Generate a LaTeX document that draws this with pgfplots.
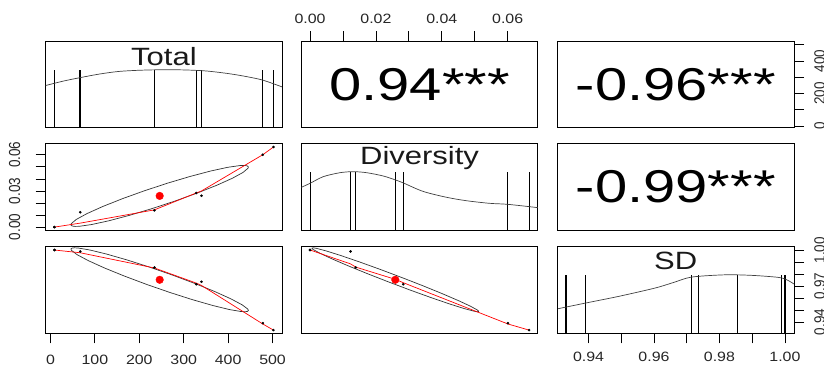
\documentclass[border=0pt]{standalone}
\usepackage{pgfplots}
\pgfplotsset{compat=1.18}
\usepackage{fontspec}
\setmainfont{Liberation Sans}
\newcommand\tl{\fontsize{13.5}{14}\selectfont}
\newcommand\ttl{\fontsize{25}{28}\selectfont}
\newcommand\cor{\fontsize{46}{50}\selectfont}
\pgfplotsset{
  panel/.style={scale only axis, width=236.5pt, height=86.5pt, anchor=south west,
    axis line style={black, line width=0.8pt}, tick align=outside,
    major tick length=10pt, every tick/.style={black, line width=0.8pt},
    xtick=\empty, ytick=\empty, scaled ticks=false,
    ticklabel style={font=\tl, text=black!85, inner sep=0pt}},
  dens/.style={smooth, black!75, line width=0.7pt, mark=none},
  rug/.style={ycomb, black, line width=1pt, mark=none},
  rugb/.style={ycomb, black, line width=1.7pt, mark=none},
  pts/.style={only marks, mark=*, mark size=1.1pt, black},
  ell/.style={black!80, line width=0.7pt, mark=none},
  lows/.style={red, line width=0.7pt, mark=none},
  mn/.style={only marks, mark=*, mark size=3.8pt, red},
}
\begin{document}
\begin{tikzpicture}
\path[use as bounding box] (0pt,0pt) rectangle (824pt,365pt);

% ---------- row 1 col 1 : Total diagonal
\begin{axis}[panel, at={(45.7pt,237.3pt)}, xmin=-10.7, xmax=521.7, ymin=0, ymax=1]
\addplot[rug] coordinates {(234,0.671)(328,0.671)(340,0.671)(478,0.671)};
\addplot[rugb] coordinates {(9,0.671)(9,0.671)(67,0.671)(502,0.671)};
\addplot[dens] coordinates {(-10.7,0.488)(30,0.54)(67,0.579)(110,0.620)(153,0.650)(200,0.664)(250,0.670)(300,0.668)(350,0.656)(400,0.626)(440,0.592)(478,0.550)(521.7,0.471)};
\node[font=\ttl, text=black!90, anchor=base, xscale=1.24] at (rel axis cs:0.5,0.72) {Total};
\end{axis}

% ---------- row 1 col 2 : r(Total,Diversity)
\begin{axis}[panel, at={(301.3pt,237.3pt)}, xmin=-0.00266, xmax=0.06916, ymin=0, ymax=1,
  xtick={0,0.01,0.02,0.03,0.04,0.05,0.06}, xticklabels={0.00,,0.02,,0.04,,0.06},
  xtick pos=right, xticklabel pos=right, xticklabel style={xscale=1.18}, xticklabel shift=7.5pt]
\addplot[draw=none, mark=none] coordinates {(0.03,0.5)};
\node[font=\cor, xscale=1.26] at (rel axis cs:0.5,0.5) {0.94***};
\end{axis}

% ---------- row 1 col 3 : r(Total,SD)
\begin{axis}[panel, at={(557.5pt,237.3pt)}, xmin=0, xmax=1, ymin=-10.7, ymax=521.7,
  ytick={0,100,200,300,400,500}, yticklabels={0,,200,,400,},
  ytick pos=right, yticklabel pos=right, yticklabel style={rotate=90, yscale=1.12, anchor=north}, yticklabel shift=10pt]
\addplot[draw=none, mark=none] coordinates {(0.5,250)};
\node[font=\cor, xscale=1.26] at (rel axis cs:0.5,0.5) {-0.96***};
\end{axis}

% ---------- row 2 col 1 : Total vs Diversity
\begin{axis}[panel, at={(45.7pt,134.7pt)}, xmin=-10.7, xmax=521.7, ymin=-0.00266, ymax=0.06916,
  ytick={0,0.01,0.02,0.03,0.04,0.05,0.06}, yticklabels={0.00,,,0.03,,,0.06},
  ytick pos=left, yticklabel pos=left, yticklabel style={rotate=90, yscale=1.18, anchor=south}, yticklabel shift=15.2pt]
\addplot[ell] coordinates {(442.8,0.05086)(436.7,0.05121)(427.3,0.05113)(399.4,0.04967)(361.1,0.04660)(314.9,0.04211)(264.0,0.03652)(211.9,0.03021)(162.1,0.02360)(118.0,0.01714)(82.6,0.01128)(58.4,0.00642)(46.9,0.00289)(46.2,0.00170)(49.0,0.00092)(55.1,0.00057)(64.5,0.00065)(92.4,0.00211)(130.7,0.00518)(176.9,0.00967)(227.8,0.01526)(279.9,0.02157)(329.7,0.02818)(373.8,0.03464)(409.2,0.04050)(433.4,0.04536)(444.9,0.04889)(445.5,0.05008)(442.8,0.05086)};
\addplot[lows] coordinates {(9,0.0000)(67,0.0033)(234,0.0143)(328,0.0283)(340,0.0300)(478,0.0601)(502,0.0665)};
\addplot[pts] coordinates {(9,0)(9,0)(67,0.0123)(234,0.0139)(328,0.0283)(340,0.026)(478,0.0601)(502,0.0665)};
\addplot[mn] coordinates {(245.9,0.02589)};
\end{axis}

% ---------- row 2 col 2 : Diversity diagonal
\begin{axis}[panel, at={(301.3pt,134.7pt)}, xmin=-0.00266, xmax=0.06916, ymin=0, ymax=1]
\addplot[rug] coordinates {(0,0.678)(0,0.678)(0.0123,0.678)(0.0139,0.678)(0.026,0.678)(0.0283,0.678)(0.0601,0.678)(0.0665,0.678)};
\addplot[dens] coordinates {(-0.00266,0.497)(0,0.543)(0.004,0.620)(0.0091,0.666)(0.0131,0.678)(0.0172,0.666)(0.0222,0.628)(0.026,0.581)(0.0283,0.548)(0.0343,0.450)(0.0414,0.382)(0.0475,0.342)(0.0545,0.312)(0.0601,0.300)(0.06916,0.262)};
\node[font=\ttl, text=black!90, anchor=base, xscale=1.24] at (rel axis cs:0.5,0.756) {Diversity};
\end{axis}

% ---------- row 2 col 3 : r(Diversity,SD)
\begin{axis}[panel, at={(557.5pt,134.7pt)}, xmin=0, xmax=1, ymin=0, ymax=1]
\addplot[draw=none, mark=none] coordinates {(0.5,0.5)};
\node[font=\cor, xscale=1.26] at (rel axis cs:0.5,0.5) {-0.99***};
\end{axis}

% ---------- row 3 col 1 : Total vs SD
\begin{axis}[panel, at={(45.7pt,31.7pt)}, xmin=-10.7, xmax=521.7, ymin=0.93052, ymax=1.00278,
  xtick={0,100,200,300,400,500}, xticklabels={0,100,200,300,400,500},
  xtick pos=left, xticklabel pos=left, xticklabel style={xscale=1.18}, xticklabel shift=11.5pt]
\addplot[ell] coordinates {(216.8,0.97133)(268.9,0.96463)(319.5,0.95864)(365.1,0.95378)(402.5,0.95039)(429.3,0.94869)(438.1,0.94852)(443.6,0.94880)(445.7,0.94953)(444.4,0.95070)(431.6,0.95429)(406.3,0.95929)(370.0,0.96539)(325.2,0.97215)(275.0,0.97913)(222.9,0.98583)(172.3,0.99182)(126.7,0.99668)(89.3,1.00007)(62.5,1.00177)(53.7,1.00194)(48.2,1.00166)(46.1,1.00093)(47.4,0.99976)(60.2,0.99617)(85.5,0.99117)(121.8,0.98507)(166.6,0.97831)(216.8,0.97133)};
\addplot[lows] coordinates {(9,1.0001)(67,0.9978)(234,0.9851)(328,0.9725)(340,0.9705)(478,0.9383)(502,0.9332)};
\addplot[pts] coordinates {(9,1.0001)(9,1.0001)(67,0.9989)(234,0.9855)(328,0.9715)(340,0.9735)(478,0.939)(502,0.9332)};
\addplot[mn] coordinates {(245.9,0.97523)};
\end{axis}

% ---------- row 3 col 2 : Diversity vs SD
\begin{axis}[panel, at={(301.3pt,31.7pt)}, xmin=-0.00266, xmax=0.06916, ymin=0.93052, ymax=1.00278]
\addplot[ell] coordinates {(0.02401,0.97325)(0.03061,0.96642)(0.03690,0.96019)(0.04243,0.95498)(0.04684,0.95116)(0.04981,0.94898)(0.05070,0.94855)(0.05116,0.94858)(0.05119,0.94907)(0.05079,0.95000)(0.04872,0.95314)(0.04509,0.95779)(0.04016,0.96362)(0.03425,0.97025)(0.02777,0.97721)(0.02117,0.98404)(0.01488,0.99027)(0.00935,0.99548)(0.00494,0.99930)(0.00197,1.00148)(0.00108,1.00191)(0.00062,1.00188)(0.00059,1.00139)(0.00099,1.00046)(0.00306,0.99732)(0.00669,0.99267)(0.01162,0.98684)(0.01753,0.98021)(0.02401,0.97325)};
\addplot[lows] coordinates {(0,1.0001)(0.0123,0.9885)(0.0139,0.9858)(0.026,0.9755)(0.0283,0.9728)(0.0601,0.9383)(0.0665,0.9332)};
\addplot[pts] coordinates {(0,1.0001)(0,1.0001)(0.0123,0.9989)(0.0139,0.9855)(0.0283,0.9715)(0.026,0.9735)(0.0601,0.939)(0.0665,0.9332)};
\addplot[mn] coordinates {(0.02589,0.97523)};
\end{axis}

% ---------- row 3 col 3 : SD diagonal
\begin{axis}[panel, at={(557.5pt,31.7pt)}, xmin=0.93052, xmax=1.00278, ymin=0, ymax=1,
  xtick={0.94,0.95,0.96,0.97,0.98,0.99,1.00}, xticklabels={0.94,,0.96,,0.98,,1.00},
  xtick pos=left, xticklabel pos=left, xticklabel style={xscale=1.18}, xticklabel shift=9pt]
\addplot[rug] coordinates {(0.939,0.678)(0.9715,0.678)(0.9735,0.678)(0.9855,0.678)(0.9989,0.678)};
\addplot[rugb] coordinates {(0.9332,0.678)(1.0001,0.678)(1.0001,0.678)};
\addplot[dens] coordinates {(0.93052,0.283)(0.939,0.349)(0.9491,0.426)(0.9603,0.523)(0.966,0.588)(0.9715,0.650)(0.9816,0.676)(0.9898,0.670)(0.9979,0.647)(1.0005,0.620)(1.00278,0.570)};
\node[font=\ttl, text=black!90, anchor=base, xscale=1.24] at (rel axis cs:0.5,0.736) {SD};
\end{axis}
\begin{axis}[panel, at={(557.5pt,31.7pt)}, xmin=0, xmax=1, ymin=0.93052, ymax=1.00278,
  ytick={0.94,0.95,0.96,0.97,0.98,0.99,1.00}, yticklabels={0.94,,,0.97,,,1.00},
  ytick pos=right, yticklabel pos=right, yticklabel style={rotate=90, yscale=1.12, anchor=north}, yticklabel shift=10pt]
\addplot[draw=none, mark=none] coordinates {(0.5,0.97)};
\end{axis}
\end{tikzpicture}
\end{document}
